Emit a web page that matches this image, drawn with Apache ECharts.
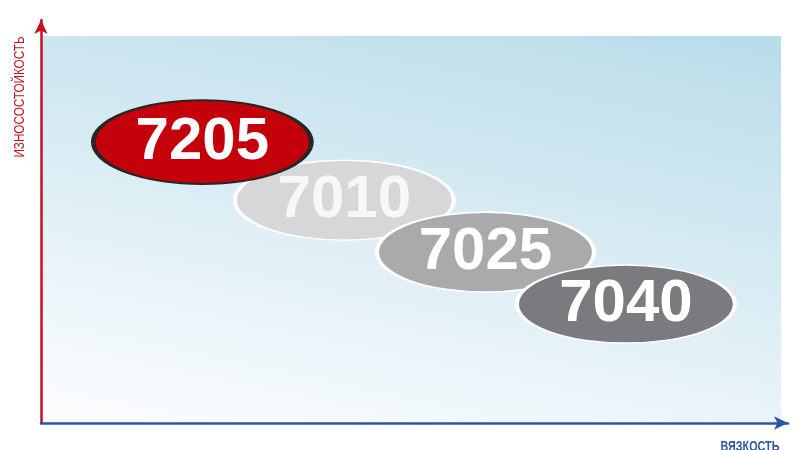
<!DOCTYPE html>
<html lang="ru">
<head>
    <meta charset="UTF-8">
    <title>Износостойкость / вязкость</title>
    <script src="https://cdn.jsdelivr.net/npm/echarts@6/dist/echarts.min.js"></script>
    <style>
        html, body { margin: 0; padding: 0; background: #fff; }
    </style>
</head>
<body>
<div id="container" style="width: 795px; height: 450px"></div>
<script type="text/javascript">
    // марки и их положение (вязкость по X, износостойкость по Y), условные единицы 0..100
    var grades = ['7205', '7010', '7025', '7040'];
    var toughness = [21.6, 40.6, 59.5, 78.3];
    var wearResistance = [69.7, 55.3, 42.4, 29.5];
    // порядок отрисовки: последний рисуется сверху
    var drawOrder = ['7010', '7025', '7040', '7205'];

    var ovalStyles = {
        '7205': { fill: '#c4000b', stroke: '#262626', lw: 3, size: [218, 84], text: '#ffffff' },
        '7010': { fill: '#d7d7d9', stroke: '#ffffff', lw: 2.5, size: [219, 80], text: '#f7f7f7' },
        '7025': { fill: '#aaaaac', stroke: '#ffffff', lw: 2.5, size: [217, 80], text: '#ffffff' },
        '7040': { fill: '#7b7a7f', stroke: '#ffffff', lw: 2.5, size: [218, 78], text: '#ffffff' }
    };

    var ellipsePath = 'path://M0,50 A100,50 0 1,1 200,50 A100,50 0 1,1 0,50 Z';

    var dom = document.getElementById("container");
    var myChart = echarts.init(dom);

    var points = drawOrder.map(function (name) {
        var i = grades.indexOf(name);
        var s = ovalStyles[name];
        return {
            name: name,
            value: [toughness[i], wearResistance[i]],
            symbolSize: s.size,
            itemStyle: { color: s.fill, borderColor: s.stroke, borderWidth: s.lw, opacity: 1 },
            label: { color: s.text }
        };
    });

    var option = {
        animation: false,
        grid: { left: 41, right: 7, top: 20, bottom: 27 },
        graphic: [
            {
                type: 'rect',
                z: -10,
                silent: true,
                shape: { x: 42, y: 36, width: 739, height: 386 },
                style: {
                    fill: new echarts.graphic.LinearGradient(1, 0, 0.86, 1.28, [
                        { offset: 0, color: '#b8dce9' },
                        { offset: 1, color: '#fafcfe' }
                    ])
                }
            },
            {
                type: 'text',
                x: 20,
                y: 97,
                rotation: Math.PI / 2,
                scaleX: 0.78,
                style: {
                    text: 'ИЗНОСОСТОЙКОСТЬ',
                    fill: '#c8101e',
                    font: '15px "Liberation Sans", sans-serif',
                    align: 'center',
                    verticalAlign: 'middle'
                }
            },
            {
                type: 'text',
                x: 750,
                y: 447,
                scaleX: 0.77,
                style: {
                    text: 'ВЯЗКОСТЬ',
                    fill: '#2f57a3',
                    font: 'bold 14px "Liberation Sans", sans-serif',
                    align: 'center',
                    verticalAlign: 'middle'
                }
            }
        ],
        xAxis: {
            type: 'value',
            min: 0,
            max: 100,
            axisLine: {
                show: true,
                symbol: ['none', 'arrow'],
                symbolSize: [10, 14],
                lineStyle: { color: '#2c54a2', width: 2.5 }
            },
            axisTick: { show: false },
            axisLabel: { show: false },
            splitLine: { show: false }
        },
        yAxis: {
            type: 'value',
            min: 0,
            max: 100,
            axisLine: {
                show: true,
                symbol: ['none', 'arrow'],
                symbolSize: [10, 14],
                lineStyle: { color: '#c8101e', width: 2.5 }
            },
            axisTick: { show: false },
            axisLabel: { show: false },
            splitLine: { show: false }
        },
        series: [
            {
                type: 'scatter',
                symbol: ellipsePath,
                data: points,
                label: {
                    show: true,
                    position: 'inside',
                    formatter: '{b}',
                    fontFamily: '"Liberation Sans", Arial, sans-serif',
                    fontWeight: 'bold',
                    fontSize: 60
                },
                emphasis: { disabled: true }
            }
        ]
    };
    myChart.setOption(option, true);
</script>
</body>
</html>
